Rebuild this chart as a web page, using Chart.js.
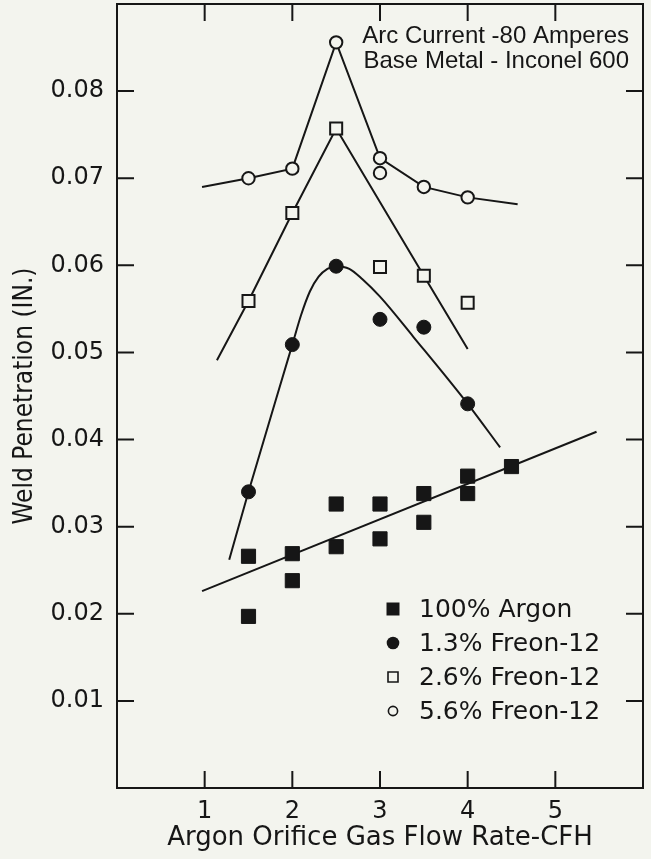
<!DOCTYPE html>
<html>
<head>
<meta charset="utf-8">
<script src="https://cdn.jsdelivr.net/npm/chart.js@4.4.1/dist/chart.umd.min.js"></script>
<style>
  html, body { margin: 0; padding: 0; background: #f3f4ee; }
  #wrap { width: 651px; height: 859px; }
</style>
</head>
<body>
<div id="wrap"><canvas id="chart" width="651" height="859"></canvas></div>
<script>
const BG = '#f3f4ee';
const INK = '#161616';

const xTicks = [1, 2, 3, 4, 5];
const yTicks = [0.01, 0.02, 0.03, 0.04, 0.05, 0.06, 0.07, 0.08];

// 100% Argon (filled squares) and its straight fit
const argonX = [1.5, 1.5, 2, 2, 2.5, 2.5, 3, 3, 3.5, 3.5, 4, 4, 4.5];
const argonY = [0.0266, 0.0197, 0.0269, 0.0238, 0.0326, 0.0277, 0.0326, 0.0286, 0.0338, 0.0305, 0.0358, 0.0338, 0.0369];
const argonFitX = [0.97, 5.47];
const argonFitY = [0.0226, 0.0409];

// 1.3% Freon-12 (filled circles) and its smooth curve
const f13X = [1.5, 2, 2.5, 3, 3.5, 4];
const f13Y = [0.0340, 0.0509, 0.0599, 0.0538, 0.0529, 0.0441];
const f13FitX = [1.28, 1.5, 2, 2.1, 2.2, 2.3, 2.4, 2.5, 2.65, 2.8, 3.0, 3.38, 4, 4.37];
const f13FitY = [0.0262, 0.0340, 0.0509, 0.0543, 0.0570, 0.0587, 0.0596, 0.0599, 0.0596, 0.0584, 0.0564, 0.0518, 0.0441, 0.0391];

// 2.6% Freon-12 (open squares)
const f26X = [1.5, 2, 2.5, 3, 3.5, 4];
const f26Y = [0.0559, 0.0660, 0.0757, 0.0598, 0.0588, 0.0557];
const f26FitX = [1.14, 1.5, 2, 2.5, 3.5, 4.0];
const f26FitY = [0.0491, 0.0559, 0.0660, 0.0757, 0.0588, 0.0504];

// 5.6% Freon-12 (open circles)
const f56X = [1.5, 2, 2.5, 3, 3, 3.5, 4];
const f56Y = [0.0700, 0.0711, 0.0856, 0.0723, 0.0706, 0.0690, 0.0678];
const f56FitX = [0.97, 1.5, 2, 2.5, 3, 3.5, 4, 4.57];
const f56FitY = [0.0690, 0.0700, 0.0711, 0.0856, 0.0723, 0.0690, 0.0678, 0.0670];

const noteLines = ['Arc Current -80 Amperes', 'Base Metal - Inconel 600'];

const pts = (xs, ys) => xs.map((x, i) => ({ x, y: ys[i] }));

function markers(label, xs, ys, style, radius, filled) {
  return {
    label, data: pts(xs, ys), showLine: false, order: 0,
    pointStyle: style, pointRadius: radius, pointHoverRadius: radius,
    pointBackgroundColor: filled ? INK : BG, pointBorderColor: INK,
    pointBorderWidth: filled ? 1 : 2
  };
}

function fit(xs, ys, smooth) {
  return {
    label: '', data: pts(xs, ys), showLine: true, order: 1, pointRadius: 0,
    borderColor: INK, borderWidth: 2, fill: false,
    cubicInterpolationMode: smooth ? 'monotone' : 'default', tension: 0
  };
}

const legendItems = [
  { text: '100% Argon', style: 'rect', filled: true, size: 6.5 },
  { text: '1.3% Freon-12', style: 'circle', filled: true, size: 6.3 },
  { text: '2.6% Freon-12', style: 'rect', filled: false, size: 5 },
  { text: '5.6% Freon-12', style: 'circle', filled: false, size: 4.6 }
];

const framePlugin = {
  id: 'frame',
  afterDraw(chart) {
    const { ctx, chartArea: a, scales } = chart;
    const len = 17;
    ctx.save();
    ctx.strokeStyle = INK;
    ctx.lineWidth = 2;
    ctx.strokeRect(a.left, a.top, a.right - a.left, a.bottom - a.top);
    ctx.beginPath();
    xTicks.forEach(v => {
      const px = scales.x.getPixelForValue(v);
      ctx.moveTo(px, a.bottom); ctx.lineTo(px, a.bottom - len);
      ctx.moveTo(px, a.top); ctx.lineTo(px, a.top + len);
    });
    yTicks.forEach(v => {
      const py = scales.y.getPixelForValue(v);
      ctx.moveTo(a.left, py); ctx.lineTo(a.left + len, py);
      ctx.moveTo(a.right, py); ctx.lineTo(a.right - len, py);
    });
    ctx.stroke();

    // note in the upper right corner
    ctx.fillStyle = INK;
    ctx.font = '24px "Liberation Sans", Arial, sans-serif';
    ctx.textAlign = 'right';
    ctx.textBaseline = 'alphabetic';
    noteLines.forEach((t, i) => ctx.fillText(t, a.right - 14, a.top + 39 + i * 25));

    // legend
    ctx.font = '25px "DejaVu Sans", sans-serif';
    ctx.textAlign = 'left';
    ctx.textBaseline = 'middle';
    legendItems.forEach((it, i) => {
      const cx = a.left + 276;
      const cy = a.top + 605 + i * 34;
      ctx.beginPath();
      if (it.style === 'rect') {
        ctx.rect(cx - it.size, cy - it.size, it.size * 2, it.size * 2);
      } else {
        ctx.arc(cx, cy, it.size, 0, Math.PI * 2);
      }
      if (it.filled) {
        ctx.fillStyle = INK; ctx.fill();
      } else {
        ctx.lineWidth = 1.6; ctx.strokeStyle = INK; ctx.stroke();
      }
      ctx.fillStyle = INK;
      ctx.fillText(it.text, a.left + 302, cy + 1);
    });
    ctx.restore();
  }
};

const bgPlugin = {
  id: 'bg',
  beforeDraw(chart) {
    const { ctx, width, height } = chart;
    ctx.save();
    ctx.fillStyle = BG;
    ctx.fillRect(0, 0, width, height);
    ctx.restore();
  }
};

new Chart(document.getElementById('chart').getContext('2d'), {
  type: 'scatter',
  data: {
    datasets: [
      markers('100% Argon', argonX, argonY, 'rect', 10, true),
      markers('1.3% Freon-12', f13X, f13Y, 'circle', 7, true),
      markers('2.6% Freon-12', f26X, f26Y, 'rect', 8.5, false),
      markers('5.6% Freon-12', f56X, f56Y, 'circle', 6.2, false),
      fit(argonFitX, argonFitY, false),
      fit(f13FitX, f13FitY, true),
      fit(f26FitX, f26FitY, false),
      fit(f56FitX, f56FitY, false)
    ]
  },
  options: {
    responsive: false,
    animation: false,
    layout: { autoPadding: false, padding: { top: 4, right: 8, left: 0, bottom: 0 } },
    plugins: { legend: { display: false }, tooltip: { enabled: false } },
    scales: {
      x: {
        type: 'linear', min: 0, max: 6,
        afterFit: s => { s.height = 71; s.paddingLeft = 0; s.paddingRight = 0; },
        afterBuildTicks: s => { s.ticks = xTicks.map(v => ({ value: v })); },
        grid: { display: false, drawTicks: false },
        border: { display: false },
        ticks: { padding: 9, color: INK, font: { family: 'DejaVu Sans', size: 24 } },
        title: {
          display: true, text: 'Argon Orifice Gas Flow Rate-CFH', color: INK,
          font: { family: 'DejaVu Sans', size: 26 }, padding: { top: 0, bottom: 5 }
        }
      },
      y: {
        type: 'linear', min: 0, max: 0.09,
        afterFit: s => { s.width = 117; s.paddingTop = 0; s.paddingBottom = 0; },
        afterBuildTicks: s => { s.ticks = yTicks.map(v => ({ value: v })); },
        grid: { display: false, drawTicks: false },
        border: { display: false },
        ticks: {
          padding: 13, color: INK, font: { family: 'DejaVu Sans', size: 24 },
          callback: v => v.toFixed(2)
        },
        title: {
          display: true, text: 'Weld Penetration (IN.)', color: INK,
          font: { family: '"Liberation Sans Narrow", "DejaVu Sans Condensed", sans-serif', size: 26 },
          padding: { top: 10, bottom: 0 }
        }
      }
    }
  },
  plugins: [bgPlugin, framePlugin]
});
</script>
</body>
</html>
